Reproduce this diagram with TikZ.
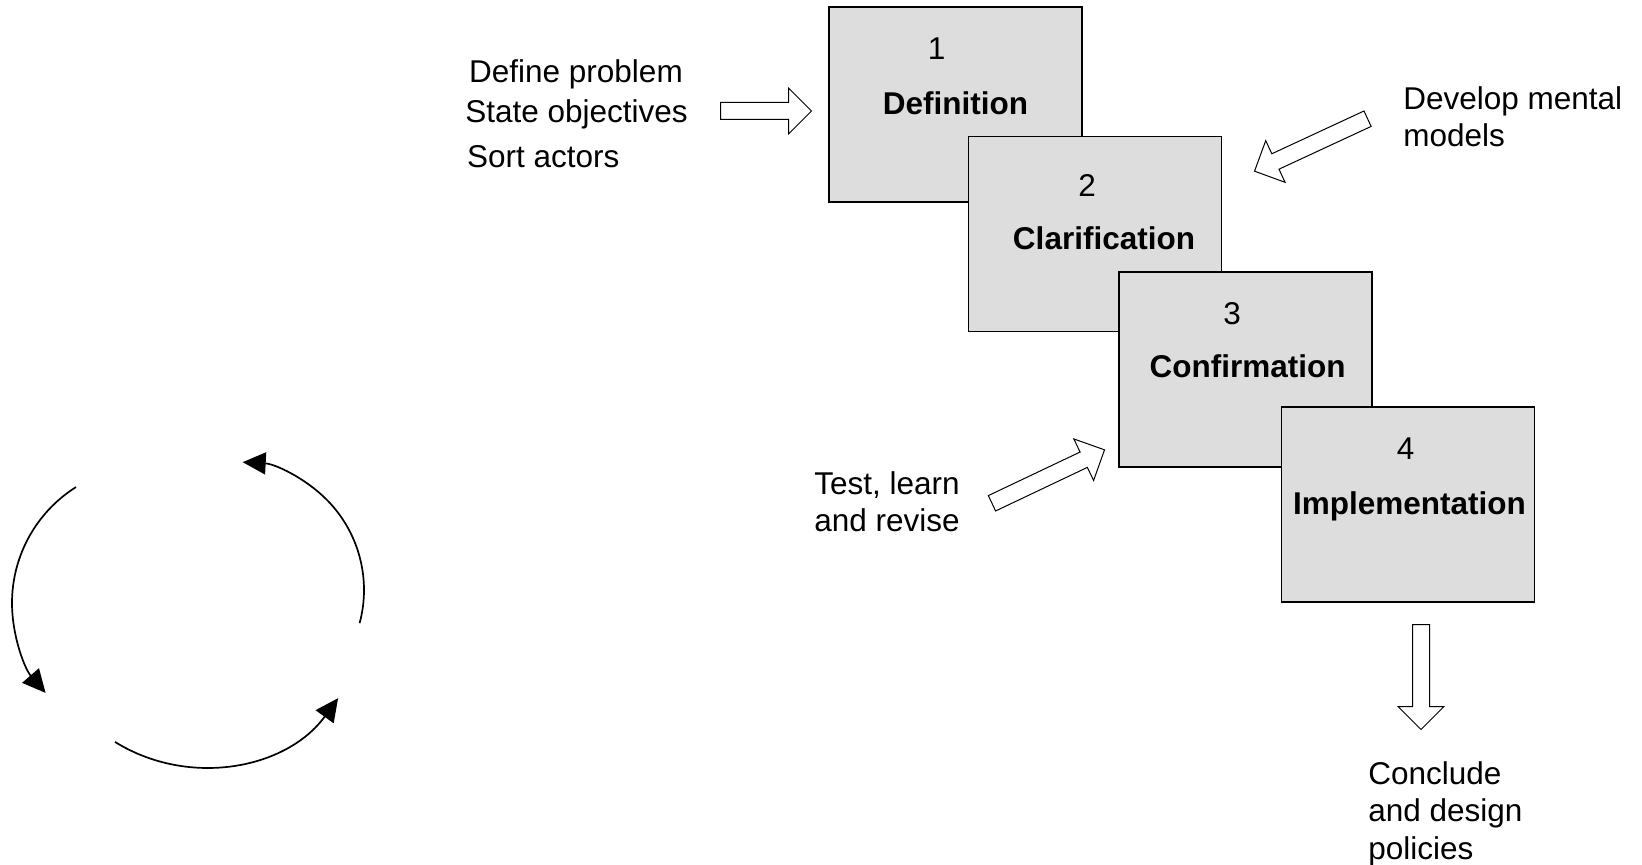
\documentclass[tikz,border=0pt]{standalone}
\usepackage{fontspec}
\setmainfont{Liberation Sans}
\usetikzlibrary{arrows.meta,shapes.arrows}
\definecolor{boxgray}{RGB}{221,221,221}

\begin{document}
\begin{tikzpicture}[x=0.5pt, y=0.5pt,
    every node/.style={font=\fontsize{15.75}{18.75}\selectfont, inner sep=0pt},
    stage/.style={draw, line width=0.7pt, fill=boxgray, minimum width=126.5pt, minimum height=97.5pt},
    bigarrow/.style={single arrow, draw, line width=0.5pt, fill=white, inner sep=4pt,
        single arrow head extend=7.25pt, anchor=tail, minimum height=#1},
    cycarrow/.style={line width=0.85pt, -{Triangle[length=11.5pt, width=11pt]}}]
    \useasboundingbox (0,0) rectangle (1642,-865);

    % Stages
    \node[stage] (b1) at (955.5,-104.5) {};
    \node[stage] (b2) at (1095,-234) {};
    \node[stage] (b3) at (1245.5,-369.5) {};
    \node[stage] (b4) at (1408,-504.5) {};

    % Numbers and names
    \node[anchor=base] (n1) at ([shift={(-19,-53)}]b1.north) {1};
    \node[anchor=base] (t1) at ([shift={(0,-108)}]b1.north) {\textbf{Definition}};
    \node[anchor=base] (n2) at ([shift={(-8,-61)}]b2.north) {2};
    \node[anchor=base] (t2) at ([shift={(9,-114)}]b2.north) {\textbf{Clarification}};
    \node[anchor=base] (n3) at ([shift={(-13.5,-53)}]b3.north) {3};
    \node[anchor=base] (t3) at ([shift={(2,-106)}]b3.north) {\textbf{Confirmation}};
    \node[anchor=base] (n4) at ([shift={(-2.5,-53)}]b4.north) {4};
    \node[anchor=base] (t4) at ([shift={(1.5,-108)}]b4.north) {\textbf{Implementation}};

    % Inputs and outputs
    \node[anchor=base] (def) at (576,-83) {Define problem};
    \node[anchor=base] (obj) at (576.5,-123) {State objectives};
    \node[anchor=base west] (act) at (466.7,-168) {Sort actors};
    \node[anchor=north west, align=left] (mod) at (1403,-86) {Develop mental\\models};
    \node[anchor=north west, align=left] (tst) at (814,-471) {Test, learn\\and revise};
    \node[anchor=north west, align=left] (con) at (1368,-761) {Conclude\\and design\\policies};

    % Block arrows
    \node[bigarrow=45.5pt] (a1) at (720,-111) {};
    \node[bigarrow=62.3pt, rotate=204.9] (a2) at (1368,-118.5) {};
    \node[bigarrow=62.3pt, rotate=25.4] (a3) at (991.5,-503.5) {};
    \node[bigarrow=52.5pt, rotate=-90] (a4) at (1421,-624) {};

    % Cycle
    \draw[cycarrow] (149,-603) ++(122.2:137) arc[start angle=122.2, end angle=221, radius=137];
    \draw[cycarrow] (203,-600) ++(238.2:167) arc[start angle=238.2, end angle=324, radius=167];
    \draw[cycarrow] (236,-590) ++(-15:128) arc[start angle=-15, end angle=87, radius=128];
\end{tikzpicture}
\end{document}
